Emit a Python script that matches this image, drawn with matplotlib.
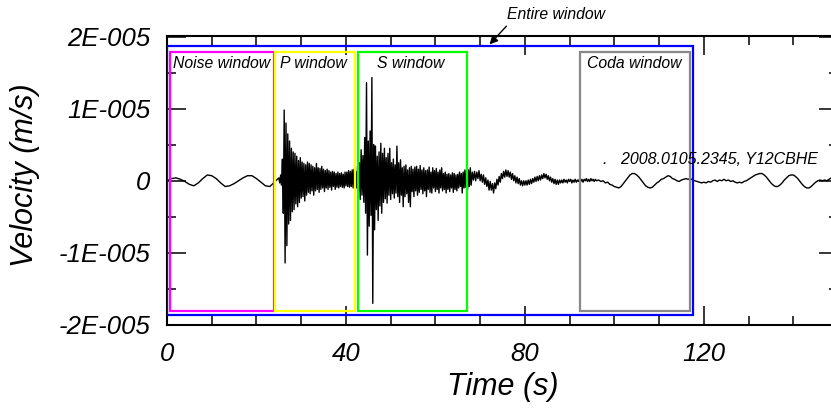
import numpy as np
import matplotlib.pyplot as plt
from matplotlib.patches import Rectangle

plt.rcParams['font.family'] = ['Liberation Sans', 'DejaVu Sans']
plt.rcParams['font.style'] = 'italic'

# trace values in 1e-6 m/s, each piece sampled evenly from its start time
noise_t0, noise_dt = 0.0, 1.0
noise_v = [0.0, 0.3, 0.4, 0.2, -0.1, -0.5, -0.7, -0.3, 0.3, 0.8, 0.7, 0.3, -0.3,
           -0.8, -0.7, -0.4, 0.0, 0.4, 0.7, 0.7, 0.3, -0.2, -0.7, -0.8, -0.2]

p_t0, p_dt = 25.0, 0.2
p_v = [0.4, -0.3, 0.8, -0.6,
       3.0, -4.5, 9.8, -11.4, 8.0, -9.0, 6.5,
       -6.0, 5.5, -5.5, 4.5, -4.3,
       4.0, -4.0, 3.8, -3.2, 3.4,
       -3.6, 2.8, -3.0, 3.2, -2.4,
       2.6, -2.2, 2.4, -2.8, 2.2,
       -2.0, 2.6, -1.6, 2.4, -1.8,
       2.2, -1.4, 2.0, -2.0, 1.8,
       -1.4, 2.4, -1.2, 1.8, -1.6,
       1.7, -1.2, 2.0, -1.0, 1.6,
       -1.5, 1.4, -1.0, 1.6, -1.2,
       1.4, -0.9, 1.2, -1.3, 1.3,
       -0.8, 1.2, -1.2, 1.0, -0.9,
       1.2, -1.0, 1.0, -0.8, 1.1,
       -0.9, 0.9, -1.0, 1.2, -0.7,
       1.2, -0.8, 1.4, -0.9, 1.3,
       -0.8, 1.5, -1.0, 1.6, -0.9,
       1.3, -1.0]

s_t0, s_dt = 42.6, 0.2
s_v = [2.0, -1.5, 2.5,
       -2.6, 4.3, -2.0, 3.5, -3.0,
       6.0, -4.5, 13.6, -10.3, 5.5,
       -6.3, 6.9, -4.8, 14.3, -17.0,
       5.0, -6.8, 4.8, -4.0, 3.4,
       -5.5, 4.0, -3.5, 5.2, -4.5,
       3.8, -3.0, 4.5, -2.5, 3.2,
       -3.1, 3.8, -2.0, 4.5, -2.6,
       2.5, -1.8, 3.0, -2.4, 2.2,
       -1.7, 4.8, -2.2, 2.5, -3.0,
       2.9, -2.0, 1.8, -3.6, 2.0,
       -2.2, 2.2, -1.8, 1.5, -3.0,
       1.8, -3.6, 2.0, -1.5, 1.6,
       -2.2, 1.9, -1.4, 2.0, -2.0,
       1.6, -1.6, 2.1, -1.2, 1.5,
       -1.8, 1.8, -1.4, 1.4, -2.2,
       1.5, -1.2, 1.9, -1.6, 1.2,
       -1.7, 1.8, -1.0, 1.4, -1.5,
       1.7, -1.2, 1.2, -1.7, 1.5,
       -1.0, 1.8, -1.4, 1.0, -1.2,
       1.2, -1.7, 0.9, -1.2, 1.0,
       -1.5, 0.8, -1.0, 1.1, -1.6,
       1.0, -1.2, 0.8, -1.4, 0.9,
       -1.0, 1.2, -0.8, 1.0, -1.7,
       1.2, -1.0, 1.5, -0.9, 1.3,
       -1.2, 1.5, -0.8, 1.8, -0.6]

coda_t0, coda_dt = 68.25, 0.25
coda_v = [1.2, 0.1, 1.3, 0.0, 1.2, 0.3, 1.4, 0.0, 0.9, -0.2,
          0.8, -0.5, 0.4, -0.8, 0.1, -1.3, -0.1, -1.3, -0.4, -1.7,
          -0.3, -1.1, 0.2, -0.6, 0.6, -0.2, 1.0, 0.3, 1.3, 0.5,
          1.5, 0.6, 1.4, 0.5, 1.2, 0.2, 1.0, 0.0, 0.7, -0.3,
          0.5, -0.4, 0.3, -0.6, 0.0, -0.7, 0.0, -0.6, 0.0, -0.6,
          0.1, -0.5, 0.2, -0.4, 0.3, -0.2, 0.5, -0.1, 0.6, 0.0,
          0.7, 0.1, 0.8, 0.3, 1.0, 0.4, 0.9, 0.2, 0.7, 0.0,
          0.5, -0.2, 0.3, -0.4, 0.2, -0.5, 0.1, -0.5, 0.1, -0.3,
          0.1, -0.3, 0.2, -0.2, 0.1, -0.3, 0.2, -0.1, 0.2, -0.3,
          0.1, -0.2, 0.2, -0.2, 0.1, -0.1, 0.3, -0.1, 0.2, -0.2,
          0.2, 0.0, 0.3, -0.1, 0.2, -0.1, 0.3, 0.0, 0.2, -0.1,
          0.2, 0.0]

tail_t0, tail_dt = 96.5, 0.5
tail_v = [0.1, -0.1, 0.0, -0.3, -0.2, -0.5, -0.6, -0.8, -0.9, -1.0,
          -0.8, -0.4, 0.0, 0.4, 0.8, 1.0, 1.0, 0.8, 0.5, 0.1,
          -0.3, -0.7, -0.9, -1.0, -0.9, -0.6, -0.3, -0.1, 0.2, 0.3,
          0.5, 0.7, 0.6, 0.3, 0.2, 0.0, -0.1, 0.1, 0.2, 0.3,
          0.2, 0.3, 0.1, 0.0, -0.1, -0.2, -0.3, -0.2, -0.3, -0.1,
          -0.2, 0.0, 0.1, -0.1, 0.1, 0.0, 0.2, 0.0, 0.1, -0.1,
          0.0, -0.2, -0.3, -0.2, -0.3, -0.1, 0.0, 0.2, 0.4, 0.6,
          0.8, 0.9, 1.0, 1.0, 0.8, 0.5, 0.1, -0.3, -0.6, -0.8,
          -0.8, -0.6, -0.3, 0.1, 0.4, 0.7, 0.8, 0.8, 0.6, 0.3,
          -0.1, -0.5, -0.8, -1.0, -1.0, -0.8, -0.5, -0.2, 0.0, 0.1,
          0.0, 0.1, 0.0, 0.2, 0.4, 0.6, 0.7, 0.8]

window_names = ['Noise window', 'P window', 'S window', 'Coda window']
window_start = [0.7, 24.2, 42.6, 92.3]
window_end = [23.9, 42.0, 67.1, 117.0]
window_label_x = [1.3, 25.2, 46.9, 94.0]
window_colors = ['#ff00ff', '#ffff00', '#00ff00', '#888888']
window_lo, window_hi = -1.80e-5, 1.79e-5

entire_start, entire_end = 0.0, 117.6
entire_lo, entire_hi = -1.86e-5, 1.87e-5

station = '2008.0105.2345, Y12CBHE'

y_ticks = [-2e-5, -1e-5, 0, 1e-5, 2e-5]
y_tick_labels = ['-2E-005', '-1E-005', '0', '1E-005', '2E-005']
x_ticks = [0, 40, 80, 120]

pieces = [(noise_t0, noise_dt, noise_v), (p_t0, p_dt, p_v), (s_t0, s_dt, s_v),
          (coda_t0, coda_dt, coda_v), (tail_t0, tail_dt, tail_v)]
t = np.concatenate([t0 + dt * np.arange(len(v)) for t0, dt, v in pieces])
vel = np.concatenate([np.array(v) for _, _, v in pieces]) * 1e-6

fig = plt.figure(figsize=(8.31, 4.08), dpi=100)
ax = fig.add_axes([167 / 831, 83 / 408, 671 / 831, 288.5 / 408])

ax.plot(t, vel, color='k', lw=1.0, zorder=2)

ax.add_patch(Rectangle((entire_start, entire_lo), entire_end - entire_start,
                       entire_hi - entire_lo, fill=False, ec='#0000ff', lw=1.6, zorder=3))
for name, a, b, lx, c in zip(window_names, window_start, window_end,
                             window_label_x, window_colors):
    ax.add_patch(Rectangle((a, window_lo), b - a, window_hi - window_lo,
                           fill=False, ec=c, lw=1.6, zorder=3))
    ax.text(lx, 1.62e-5, name, fontsize=11.3, ha='left', va='center', zorder=4)

ax.annotate('Entire window', xy=(72.1, 1.89e-5), xytext=(76.0, 2.3e-5),
            fontsize=11.3, ha='left', va='center', annotation_clip=False,
            arrowprops=dict(arrowstyle='-|>', color='k', lw=1.0, mutation_scale=12,
                            shrinkA=1, shrinkB=0, relpos=(0.03, 0.0)))

ax.text(97.5, 0.29e-5, '.   ' + station, fontsize=11.5, ha='left', va='center')

ax.set_xlim(0, 150)
ax.set_ylim(-2e-5, 2e-5)
ax.set_xticks(x_ticks)
ax.set_xticks(np.arange(0, 151, 10), minor=True)
ax.set_yticks(y_ticks)
ax.set_yticklabels(y_tick_labels)
ax.set_yticks(np.arange(-2e-5, 2.01e-5, 0.5e-5), minor=True)
ax.tick_params(which='both', direction='in', top=True, right=True,
               labelsize=18.5, pad=12, width=1.1)
ax.tick_params(which='major', length=13.5)
ax.tick_params(which='minor', length=6.5)
for sp in ax.spines.values():
    sp.set_linewidth(1.5)

ax.set_xlabel('Time (s)', fontsize=22)
ax.set_ylabel('Velocity (m/s)', fontsize=22)
ax.xaxis.set_label_coords(0.5, -0.163)
ax.yaxis.set_label_coords(-0.189, 0.52)

fig.savefig('out.png', dpi=100)
